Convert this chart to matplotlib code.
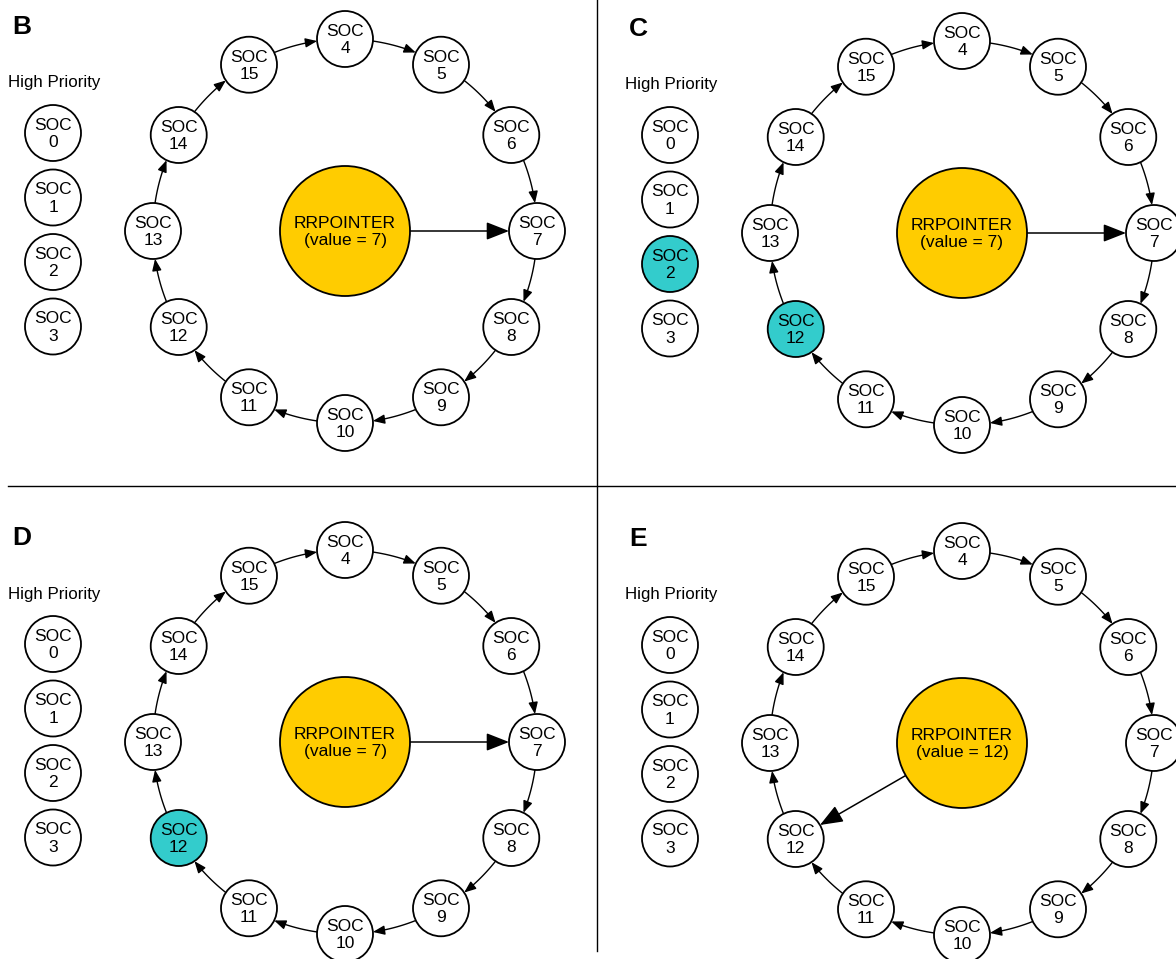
import numpy as np
import matplotlib
matplotlib.use('Agg')
import matplotlib.pyplot as plt
from matplotlib.patches import Circle, FancyArrowPatch
from matplotlib.path import Path

plt.rcParams['font.family'] = ['Liberation Sans', 'DejaVu Sans']

# data
ring_nodes = [4, 5, 6, 7, 8, 9, 10, 11, 12, 13, 14, 15]
priority_nodes = [0, 1, 2, 3]
panel_labels = ['B', 'C', 'D', 'E']
pointer_values = [7, 7, 7, 12]
highlighted = [[], [2, 12], [12], []]

# layout (pixels)
offsets = [(0, 0), (617, 2), (0, 511), (617, 512)]
cx, cy, R = 345, 231, 192
node_r = 28
ptr_r = 65
prio_x, prio_y0, prio_dy = 53, 133, 64.5

yellow = '#FFCC00'
teal = '#33CCCC'

fig = plt.figure(figsize=(11.76, 9.59), dpi=100)
ax = fig.add_axes([0, 0, 1, 1])
ax.set_xlim(0, 1176)
ax.set_ylim(959, 0)
ax.axis('off')


def ring_angle(n):
    return np.radians(90 - (ring_nodes.index(n)) * 30)


def ring_pos(n, ox, oy):
    a = ring_angle(n)
    return ox + cx + R * np.cos(a), oy + cy - R * np.sin(a)


def node(x, y, n, hl):
    ax.add_patch(Circle((x, y), node_r, facecolor=teal if hl else 'white',
                        edgecolor='black', lw=1.3, zorder=3))
    ax.text(x, y + 1, 'SOC\n%d' % n, ha='center', va='center', fontsize=12.5,
            linespacing=1.2, zorder=4)


for k, (ox, oy) in enumerate(offsets):
    ax.text(12 + ox, 27 + oy, panel_labels[k], fontsize=19, fontweight='bold',
            ha='left', va='center')
    ax.text(8 + ox, 83 + oy, 'High Priority', fontsize=12.2, ha='left', va='center')

    for i, n in enumerate(priority_nodes):
        node(prio_x + ox, prio_y0 + i * prio_dy + oy, n, n in highlighted[k])

    for n in ring_nodes:
        x, y = ring_pos(n, ox, oy)
        node(x, y, n, n in highlighted[k])

    # ring arrows n -> next (clockwise)
    d = 2 * np.arcsin(node_r / (2 * R))
    for i, n in enumerate(ring_nodes):
        a0 = ring_angle(n) - d
        a1 = ring_angle(n) - np.radians(30) + d
        t = np.linspace(a0, a1, 20)
        pts = np.column_stack([ox + cx + R * np.cos(t), oy + cy - R * np.sin(t)])
        codes = [Path.MOVETO] + [Path.LINETO] * (len(pts) - 1)
        ax.add_patch(FancyArrowPatch(path=Path(pts, codes),
                                     arrowstyle='-|>,head_length=0.7,head_width=0.28',
                                     mutation_scale=10, lw=1.0, color='black',
                                     zorder=2))

    # pointer
    px, py = cx + ox, cy + oy
    ax.add_patch(Circle((px, py), ptr_r, facecolor=yellow, edgecolor='black',
                        lw=1.3, zorder=3))
    ax.text(px, py + 1, 'RRPOINTER\n(value = %d)' % pointer_values[k],
            ha='center', va='center', fontsize=12.5, linespacing=1.15, zorder=4)
    tx, ty = ring_pos(pointer_values[k], ox, oy)
    v = np.array([tx - px, ty - py])
    L = np.hypot(*v)
    u = v / L
    start = (px + u[0] * ptr_r, py + u[1] * ptr_r)
    end = (tx - u[0] * node_r, ty - u[1] * node_r)
    ax.add_patch(FancyArrowPatch(start, end,
                                 arrowstyle='-|>,head_length=1.4,head_width=0.55',
                                 mutation_scale=10, lw=1.1, color='black',
                                 shrinkA=0, shrinkB=0, zorder=2))

# panel dividers
ax.plot([597, 597], [0, 951], color='black', lw=1.0)
ax.plot([8, 1176], [486, 486], color='black', lw=1.0)

fig.savefig('out.png', dpi=100)
